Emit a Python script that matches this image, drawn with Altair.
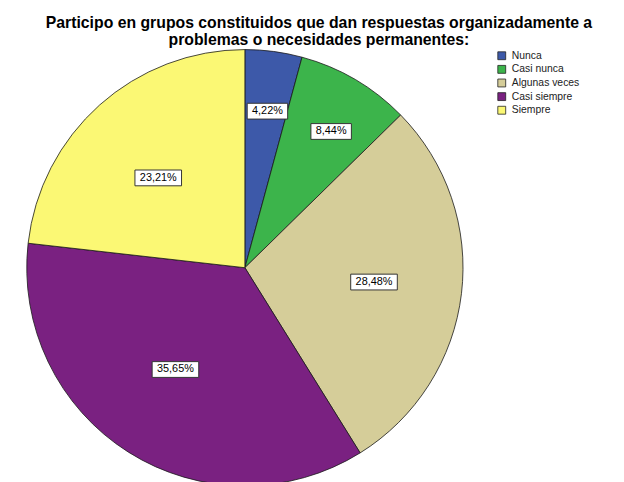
import altair as alt
import pandas as pd

categorias = ["Nunca", "Casi nunca", "Algunas veces", "Casi siempre", "Siempre"]
porcentajes = [4.22, 8.44, 28.48, 35.65, 23.21]
etiquetas = ["4,22%", "8,44%", "28,48%", "35,65%", "23,21%"]
colores = ["#3d59a9", "#3cb44b", "#d5cd99", "#7a2181", "#fbf874"]
titulo = [
    "Participo en grupos constituidos que dan respuestas organizadamente a",
    "problemas o necesidades permanentes:",
]

df = pd.DataFrame({
    "categoria": categorias,
    "porcentaje": porcentajes,
    "etiqueta": etiquetas,
    "orden": list(range(len(categorias))),
})

W, H = 480, 430
R = 221
FONT = "Liberation Sans"

color_scale = alt.Scale(domain=categorias, range=colores)
base = alt.Chart(df)

pie = base.mark_arc(outerRadius=R, stroke="#1a1a1a", strokeWidth=0.8).encode(
    theta=alt.Theta("porcentaje:Q", stack=True),
    color=alt.Color(
        "categoria:N",
        scale=color_scale,
        sort=categorias,
        legend=alt.Legend(
            title=None,
            orient="none",
            legendX=495,
            legendY=-5,
            symbolType="square",
            symbolSize=64,
            symbolStrokeColor="#222222",
            symbolStrokeWidth=0.8,
            labelFont=FONT,
            labelFontSize=10.5,
            labelColor="#222222",
            rowPadding=1.8,
            labelOffset=5,
            padding=0,
        ),
    ),
    order=alt.Order("orden:Q"),
)

lab = (
    base.transform_window(
        acumulado="sum(porcentaje)", sort=[alt.SortField("orden")], frame=[None, 0]
    )
    .transform_calculate(medio="(datum.acumulado - datum.porcentaje/2) / 100 * 2 * PI")
    .transform_calculate(r="datum.porcentaje < 10 ? 160 : 122")
    .transform_calculate(lx=f"{W/2} + 1.08 * datum.r * sin(datum.medio)")
    .transform_calculate(ly=f"{H/2} - datum.r * cos(datum.medio)")
    .transform_calculate(w="length(datum.etiqueta) * 6.2 + 10")
    .transform_calculate(x1="datum.lx - datum.w/2")
    .transform_calculate(x2="datum.lx + datum.w/2")
    .transform_calculate(y1="datum.ly - 8")
    .transform_calculate(y2="datum.ly + 8")
)

boxes = lab.mark_rect(fill="white", stroke="#333333", strokeWidth=1).encode(
    x=alt.X("x1:Q", scale=None, axis=None),
    x2="x2:Q",
    y=alt.Y("y1:Q", scale=None, axis=None),
    y2="y2:Q",
)

texts = lab.mark_text(font=FONT, fontSize=11, color="black").encode(
    x=alt.X("lx:Q", scale=None, axis=None),
    y=alt.Y("ly:Q", scale=None, axis=None),
    text="etiqueta:N",
)

chart = (
    alt.layer(pie, boxes, texts)
    .properties(
        width=W,
        height=H,
        title=alt.Title(
            titulo,
            font=FONT,
            fontSize=16,
            fontWeight="bold",
            anchor="middle",
            dx=75,
            dy=8,
            offset=8,
            lineHeight=17,
            color="black",
        ),
        padding={"left": 0, "top": 45, "right": 136, "bottom": 0},
        autosize=alt.AutoSizeParams(type="none"),
        background="white",
    )
    .configure_view(stroke=None)
)

chart.save("out.html", embed_options={"renderer": "svg", "actions": False})
